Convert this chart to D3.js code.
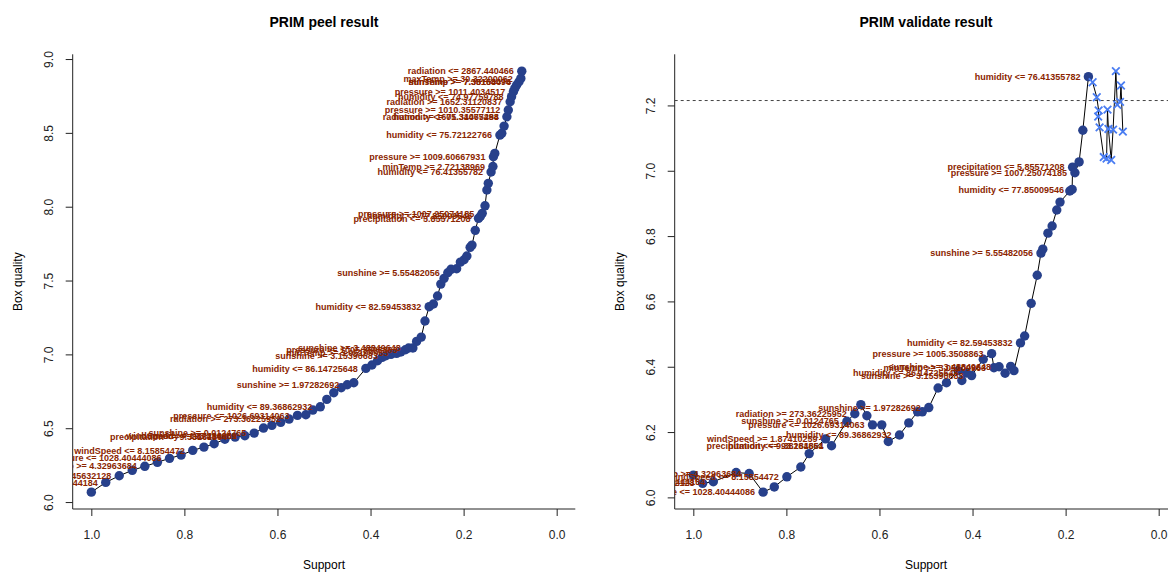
<!DOCTYPE html>
<html>
<head>
<meta charset="utf-8">
<script src="https://cdn.jsdelivr.net/npm/d3@7"></script>
<style>
  body { margin: 0; background: #fff; }
  svg { display: block; font-family: "Liberation Sans", Arial, Helvetica, sans-serif; }
</style>
</head>
<body>
<svg id="chart" width="1168" height="572"></svg>
<script>
// ---- PRIM peeling trajectory (training data) ----
const peelSupport = [1.000, 0.969, 0.940, 0.912, 0.885, 0.858, 0.832, 0.807, 0.782, 0.758,
  0.736, 0.713, 0.691, 0.670, 0.650, 0.630, 0.612, 0.593, 0.575, 0.557,
  0.539, 0.524, 0.508, 0.494, 0.479, 0.463, 0.450, 0.436, 0.410, 0.397,
  0.385, 0.375, 0.367, 0.356, 0.344, 0.335, 0.325, 0.318, 0.309, 0.301,
  0.291, 0.283, 0.274, 0.265, 0.256, 0.249, 0.242, 0.234, 0.227, 0.215,
  0.207, 0.199, 0.193, 0.186, 0.182, 0.175, 0.168, 0.164, 0.160, 0.154,
  0.150, 0.147, 0.141, 0.137, 0.136, 0.133, 0.122, 0.118, 0.113, 0.107,
  0.104, 0.100, 0.097, 0.093, 0.090, 0.086, 0.081, 0.077, 0.075];
const peelQuality = [6.067, 6.133, 6.178, 6.215, 6.242, 6.269, 6.296, 6.318, 6.350, 6.372,
  6.395, 6.425, 6.440, 6.449, 6.467, 6.501, 6.519, 6.540, 6.562, 6.587,
  6.591, 6.623, 6.645, 6.695, 6.740, 6.774, 6.794, 6.808, 6.905, 6.928,
  6.957, 6.980, 6.991, 7.000, 7.007, 7.016, 7.031, 7.043, 7.043, 7.088,
  7.117, 7.226, 7.323, 7.341, 7.395, 7.476, 7.515, 7.553, 7.576, 7.580,
  7.625, 7.641, 7.666, 7.725, 7.740, 7.840, 7.921, 7.935, 7.955, 8.006,
  8.113, 8.158, 8.235, 8.272, 8.338, 8.361, 8.485, 8.497, 8.546, 8.609,
  8.655, 8.711, 8.745, 8.779, 8.801, 8.824, 8.846, 8.869, 8.918];

// rule labels on the peel trajectory (index of the step, rule text)
const peelLabelIdx = [1, 2, 4, 6, 8, 12, 13, 13, 14, 18, 19, 22, 26, 28, 32, 34, 36, 37,
  42, 47, 56, 57, 58, 62, 63, 64, 66, 69, 69, 70, 71, 72, 73, 76, 76, 77, 78];
const peelLabelText = [
  "maxTemp <= 33.92444184", "radiation >= 345.45632128", "minTemp >= 4.32963684",
  "pressure <= 1028.40444086", "windSpeed <= 8.15854472", "precipitation <= 9.38161854",
  "windSpeed >= 1.87410259", "humidity <= 93.284661", "sunshine >= 0.0124765",
  "radiation >= 273.36225952", "pressure <= 1026.69314063", "humidity <= 89.36862932",
  "sunshine >= 1.97282692", "humidity <= 86.14725648", "sunshine >= 3.15390683",
  "minTemp >= 3.05109963", "pressure >= 1005.3508863", "sunshine >= 3.48849648",
  "humidity <= 82.59453832", "sunshine >= 5.55482056", "precipitation <= 5.85571208",
  "humidity <= 77.85009546", "pressure >= 1007.25074185", "humidity <= 76.41355782",
  "minTemp >= 2.72138969", "pressure >= 1009.60667931", "humidity <= 75.72122766",
  "humidity <= 75.34465288", "radiation >= 1601.31077494", "pressure >= 1010.35577112",
  "radiation >= 1652.31120837", "humidity <= 74.97759788", "pressure >= 1011.4034517",
  "sunshine >= 7.35164094", "minTemp >= 7.38158476", "maxTemp >= 30.32200062",
  "radiation <= 2867.440466"];

// ---- validation trajectory (test data) ----
const validSupport = [1.000, 0.980, 0.957, 0.908, 0.880, 0.850, 0.826, 0.799, 0.769, 0.751,
  0.716, 0.703, 0.670, 0.653, 0.640, 0.627, 0.615, 0.595, 0.581, 0.557,
  0.537, 0.518, 0.508, 0.494, 0.474, 0.456, 0.431, 0.423, 0.413, 0.402,
  0.377, 0.359, 0.354, 0.343, 0.330, 0.318, 0.311, 0.297, 0.288, 0.274,
  0.261, 0.253, 0.249, 0.238, 0.229, 0.219, 0.212, 0.191, 0.186, 0.185,
  0.180, 0.171, 0.163, 0.151];
const validQuality = [6.068, 6.043, 6.048, 6.076, 6.073, 6.016, 6.032, 6.063, 6.093, 6.134,
  6.179, 6.158, 6.233, 6.256, 6.284, 6.250, 6.222, 6.222, 6.171, 6.191,
  6.228, 6.262, 6.262, 6.275, 6.335, 6.351, 6.388, 6.358, 6.381, 6.373,
  6.423, 6.440, 6.397, 6.400, 6.380, 6.401, 6.388, 6.473, 6.494, 6.594,
  6.680, 6.748, 6.760, 6.809, 6.831, 6.880, 6.904, 6.938, 6.943, 7.011,
  6.994, 7.027, 7.124, 7.288];
// steps past the selected box, drawn as crosses
const extraSupport = [0.142, 0.133, 0.129, 0.130, 0.127, 0.118, 0.112, 0.110, 0.108, 0.102,
  0.098, 0.092, 0.089, 0.083, 0.081, 0.077];
const extraQuality = [7.271, 7.225, 7.185, 7.166, 7.133, 7.042, 7.037, 7.187, 7.128, 7.033,
  7.126, 7.305, 7.202, 7.211, 7.261, 7.120];
const qualityThreshold = 7.215;

const validLabelIdx = [1, 2, 4, 5, 7, 10, 11, 11, 12, 13, 16, 19, 23, 28, 29, 31, 32, 33,
  37, 41, 48, 49, 50, 53];
const validLabelText = [
  "radiation >= 345.45632128", "maxTemp <= 33.92444184", "minTemp >= 4.32963684",
  "pressure <= 1028.40444086", "windSpeed <= 8.15854472", "windSpeed >= 1.87410259",
  "precipitation <= 9.38161854", "humidity <= 93.284661", "sunshine >= 0.0124765",
  "radiation >= 273.36225952", "pressure <= 1026.69314063", "humidity <= 89.36862932",
  "sunshine >= 1.97282692", "humidity <= 86.14725648", "sunshine >= 3.15390683",
  "pressure >= 1005.3508863", "minTemp >= 3.05109963", "sunshine >= 3.48849648",
  "humidity <= 82.59453832", "sunshine >= 5.55482056", "humidity <= 77.85009546",
  "precipitation <= 5.85571208", "pressure >= 1007.25074185", "humidity <= 76.41355782"];

// ---- axis ticks ----
const supportTicks = [1.0, 0.8, 0.6, 0.4, 0.2, 0.0];
const peelQualityTicks = [6.0, 6.5, 7.0, 7.5, 8.0, 8.5, 9.0];
const validQualityTicks = [6.0, 6.2, 6.4, 6.6, 6.8, 7.0, 7.2];

const titles = ["PRIM peel result", "PRIM validate result"];

const svg = d3.select("#chart");
const LABEL_COLOR = "#8B2500";
const POINT_COLOR = "#27408B";
const CROSS_COLOR = "#4A7DF2";

// R-style axis range: data extent widened by 4% on each side
function padded(ext) {
  const d = (ext[1] - ext[0]) * 0.04;
  return [ext[0] - d, ext[1] + d];
}

function drawPanel(opt, idx) {
  const { left, right, top, bottom } = opt;
  const x = d3.scaleLinear().domain(padded([0, 1]).reverse()).range([left, right]);
  const y = d3.scaleLinear().domain(padded(d3.extent(opt.yAll))).range([bottom, top]);

  const g = svg.append("g");
  const clipId = "clip" + idx;
  svg.append("clipPath").attr("id", clipId)
    .append("rect").attr("x", left).attr("y", top)
    .attr("width", right - left).attr("height", bottom - top);

  // title
  g.append("text").attr("x", (left + right) / 2).attr("y", 27)
    .attr("text-anchor", "middle").attr("font-size", 14).attr("font-weight", "bold")
    .text(opt.title);

  // axes
  const xAxis = g.append("g").attr("transform", `translate(0,${bottom})`)
    .call(d3.axisBottom(x).tickValues(supportTicks).tickFormat(d3.format(".1f")).tickSize(7).tickSizeOuter(0));
  xAxis.select(".domain").remove();
  xAxis.selectAll("text").attr("y", 26).attr("dy", "0.35em").attr("font-size", 12)
    .attr("font-family", null).attr("fill", "#222");
  xAxis.selectAll("line").attr("stroke", "#222");

  const yAxis = g.append("g").attr("transform", `translate(${left},0)`)
    .call(d3.axisLeft(y).tickValues(opt.yTicks).tickFormat(d3.format(".1f")).tickSize(7).tickSizeOuter(0));
  yAxis.select(".domain").remove();
  yAxis.selectAll("line").attr("stroke", "#222");
  yAxis.selectAll("text").attr("x", 0).attr("y", -24).attr("dy", "0.35em")
    .attr("transform", "rotate(-90)").attr("text-anchor", "middle")
    .attr("font-size", 12).attr("font-family", null).attr("fill", "#222");

  // L-shaped frame
  g.append("path").attr("d", `M${left},${top}V${bottom}H${right}`)
    .attr("fill", "none").attr("stroke", "#222").attr("stroke-width", 1);

  // axis titles
  g.append("text").attr("x", (left + right) / 2).attr("y", 569)
    .attr("text-anchor", "middle").attr("font-size", 12).text("Support");
  g.append("text").attr("transform", `translate(${left - 55},${(top + bottom) / 2}) rotate(-90)`)
    .attr("dy", "0.35em").attr("text-anchor", "middle").attr("font-size", 12).text("Box quality");

  const plot = g.append("g").attr("clip-path", `url(#${clipId})`);

  if (opt.threshold !== undefined) {
    plot.append("line").attr("x1", left).attr("x2", right)
      .attr("y1", y(opt.threshold)).attr("y2", y(opt.threshold))
      .attr("stroke", "#444").attr("stroke-dasharray", "3,3").attr("stroke-width", 1);
  }

  const path = opt.points.concat(opt.extra || []);
  plot.append("path").datum(path)
    .attr("d", d3.line().x(d => x(d[0])).y(d => y(d[1])))
    .attr("fill", "none").attr("stroke", "#000").attr("stroke-width", 1);

  plot.selectAll("circle.pt").data(opt.points).join("circle")
    .attr("cx", d => x(d[0])).attr("cy", d => y(d[1])).attr("r", 4.7)
    .attr("fill", POINT_COLOR);

  const s = 3.8;
  plot.selectAll("path.cross").data(opt.extra || []).join("path")
    .attr("d", d => {
      const cx = x(d[0]), cy = y(d[1]);
      return `M${cx - s},${cy - s}L${cx + s},${cy + s}M${cx - s},${cy + s}L${cx + s},${cy - s}`;
    })
    .attr("stroke", CROSS_COLOR).attr("stroke-width", 1.8).attr("fill", "none");

  plot.selectAll("text.rule").data(opt.labels).join("text")
    .attr("x", d => x(opt.points[d[0]][0]) - 8)
    .attr("y", d => y(opt.points[d[0]][1]))
    .attr("dy", "0.35em").attr("text-anchor", "end")
    .attr("font-size", 9).attr("font-weight", "bold").attr("fill", LABEL_COLOR)
    .text(d => d[1]);
}

const peelPoints = peelSupport.map((s, i) => [s, peelQuality[i]]);
const validPoints = validSupport.map((s, i) => [s, validQuality[i]]);
const extraPoints = extraSupport.map((s, i) => [s, extraQuality[i]]);

drawPanel({
  left: 72.7, right: 575.3, top: 54.3, bottom: 509,
  title: titles[0], yTicks: peelQualityTicks, yAll: peelQuality,
  points: peelPoints,
  labels: peelLabelIdx.map((k, i) => [k, peelLabelText[i]])
}, 0);

drawPanel({
  left: 674.7, right: 1177.3, top: 54.3, bottom: 509,
  title: titles[1], yTicks: validQualityTicks, yAll: validQuality.concat(extraQuality),
  points: validPoints, extra: extraPoints, threshold: qualityThreshold,
  labels: validLabelIdx.map((k, i) => [k, validLabelText[i]])
}, 1);
</script>
</body>
</html>
